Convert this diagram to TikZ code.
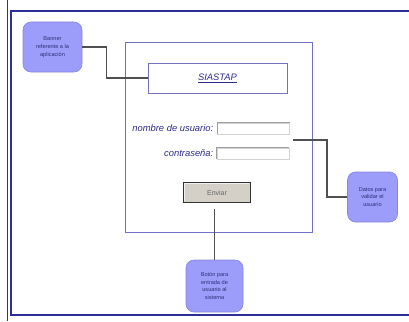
\documentclass[tikz,border=0pt]{standalone}
\usepackage{fontspec}
\setmainfont{Liberation Sans}
\begin{document}
\begin{tikzpicture}[x=1pt,y=-1pt]
\definecolor{pageedge}{HTML}{2E2E9A}
\definecolor{formedge}{HTML}{7070C8}
\definecolor{calloutfill}{HTML}{9C9CFA}
\definecolor{calloutedge}{HTML}{8585E6}
\definecolor{callouttext}{HTML}{30307A}
\definecolor{labeltext}{HTML}{2B2B8C}
\definecolor{wire}{HTML}{505050}
\definecolor{buttongrey}{HTML}{D4D0C8}
\tikzset{
  callout/.style={draw=calloutedge, fill=calloutfill, rounded corners=8pt, line width=0.6pt,
    text=callouttext, align=center, font=\fontsize{5.6}{7.8}\selectfont, inner sep=0pt},
  wireline/.style={draw=wire, line width=1.4pt},
  inputfield/.style={draw=gray!35, fill=white, line width=0.8pt, minimum width=72pt, minimum height=11pt, inner sep=0pt},
  sunken/.style={draw=gray!75, line width=1pt},
  formlabel/.style={text=labeltext, font=\fontsize{9.4}{11}\selectfont\itshape, anchor=east, inner sep=0pt},
}
\useasboundingbox (0,0) rectangle (409,321);

% page border
\draw[pageedge, line width=1pt] (7.5,0) -- (7.5,321);
\draw[pageedge, line width=1.6pt] (409,11) -- (11,11) -- (11,315) -- (409,315);

% login form
\node[draw=formedge, line width=1pt, minimum width=187pt, minimum height=189pt, inner sep=0pt] (form) at (218.5,137.5) {};
\node[draw=formedge!80!gray, line width=0.7pt, minimum width=139pt, minimum height=30pt, inner sep=0pt,
      text=labeltext, font=\fontsize{9.4}{11}\selectfont\itshape] (banner) at (217.5,78) {\underline{SIASTAP}};
\node[inputfield] (userfield) at (253.5,128.5) {};
\node[inputfield] (passfield) at (253,153.5) {};
\draw[sunken] (userfield.south west) -- (userfield.north west) -- (userfield.north east);
\draw[sunken] (passfield.south west) -- (passfield.north west) -- (passfield.north east);
\node[formlabel] (userlabel) at (213.5,128.5) {nombre de usuario:};
\node[formlabel] (passlabel) at (213.5,153.5) {contraseña:};
\node[draw=black!80, fill=buttongrey, line width=1.6pt, minimum width=67pt, minimum height=20pt, inner sep=0pt,
      text=black!60, font=\fontsize{7}{8}\selectfont] (send) at (217,192.5) {Enviar};
\draw[white!90!gray, line width=0.8pt] ([shift={(2,-2)}]send.south west) -- ([shift={(2,2)}]send.north west) -- ([shift={(-2,2)}]send.north east);

% callouts
\node[callout, minimum width=59pt, minimum height=50pt] (bannernote) at (52.5,47) {Banner\\referente a la\\aplicación};
\node[callout, minimum width=50pt, minimum height=50pt] (datanote) at (372.5,197) {Datos para\\validar el\\usuario};
\node[callout, minimum width=57pt, minimum height=52pt] (buttonnote) at (214.5,286) {Botón para\\entrada de\\usuario al\\sistema};

% connectors
\coordinate (fieldsgap) at (293,140);
\coordinate (sendbelow) at (214.5,209);
\draw[wireline] (bannernote.east) -- ++(24,0) |- (banner.west);
\draw[wireline] (fieldsgap) -- ++(34,0) |- (datanote.west);
\draw[wireline] (sendbelow) -- (buttonnote.north);
\end{tikzpicture}
\end{document}
